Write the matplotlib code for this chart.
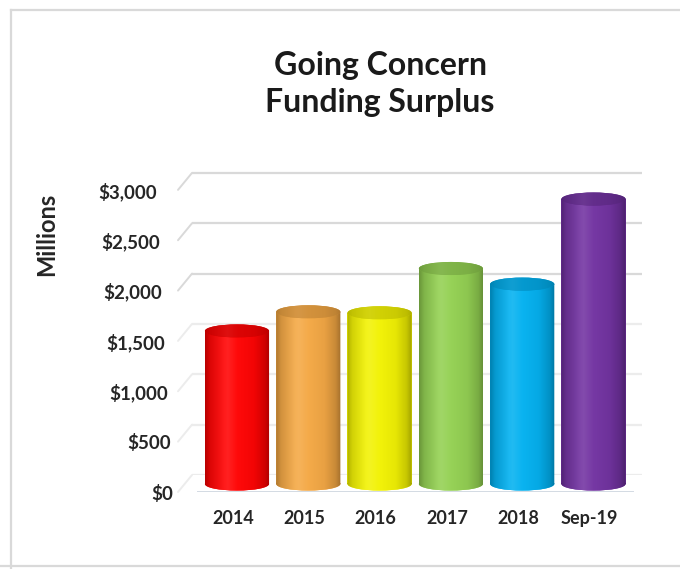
import numpy as np
import matplotlib
matplotlib.use("Agg")
import matplotlib.pyplot as plt
from matplotlib.patches import Ellipse, PathPatch, ConnectionPatch
from matplotlib.path import Path
from matplotlib.lines import Line2D
import matplotlib.transforms as mtransforms
import matplotlib.colors as mcolors

# ---- data ----
categories = ["2014", "2015", "2016", "2017", "2018", "Sep-19"]
values = [1520, 1710, 1700, 2140, 1985, 2830]
colors = ["#FF0000", "#F4A742", "#F2F200", "#92D050", "#00B0F0", "#7030A0"]
yticks = [0, 500, 1000, 1500, 2000, 2500, 3000]
ytick_labels = ["$0", "$500", "$1,000", "$1,500", "$2,000", "$2,500", "$3,000"]
title = "Going Concern\nFunding Surplus"
ylabel = "Millions"

W, H = 680, 569
fig = plt.figure(figsize=(W / 100, H / 100), dpi=100)
FONT = ["Lato", "DejaVu Sans"]

def fbox(px_left, px_bottom, px_w, px_h):
    return [px_left / W, 1 - px_bottom / H, px_w / W, px_h / H]

XL, XR = 178, 642
XMIN, XMAX = -0.827, 5.68
YMAX = 3200
YBEL = 150
PXPER = 0.1007
AH = YMAX * PXPER

ax_back = fig.add_axes(fbox(XL, 475, XR - XL, AH))
ax_lab = fig.add_axes(fbox(XL, 492, XR - XL, AH))
ax_bar = fig.add_axes(fbox(XL, 484 + YBEL * PXPER, XR - XL, (YMAX + YBEL) * PXPER))
for a in (ax_back, ax_lab, ax_bar):
    a.set_xlim(XMIN, XMAX)
    a.set_ylim(0, YMAX)
    a.patch.set_alpha(0)
    for s in a.spines.values():
        s.set_visible(False)
ax_bar.set_ylim(-YBEL, YMAX)
for a in (ax_back, ax_bar):
    a.set_xticks([])
    a.set_yticks([])

GRID = "#D9D9D9"
x0_back = (192 - XL) / (XR - XL)
for v in yticks:
    gc = GRID if v >= 2000 else "#ECECEC"
    ax_back.plot([x0_back, 1.0], [v, v], color=gc, lw=1.6,
                 transform=ax_back.get_yaxis_transform(), solid_capstyle="butt")
    cp = ConnectionPatch(xyA=(0, v), coordsA=ax_lab.get_yaxis_transform(),
                         xyB=(x0_back, v), coordsB=ax_back.get_yaxis_transform(),
                         color=gc, lw=1.4)
    fig.add_artist(cp)

# floor front line
ax_lab.plot([(198 - XL) / (XR - XL), (633 - XL) / (XR - XL)], [0, 0],
            color="#D3DAE3", lw=1.4, transform=ax_lab.get_yaxis_transform())

# ---- cylinders ----
x = np.arange(len(categories))
bw = 0.9
he = 65  # half height of ellipse in data units

bars = ax_bar.bar(x, values, width=bw, color=colors, edgecolor="none", zorder=3)

t = np.linspace(0, 1, 200)
dark = np.interp(t, [0, 0.08, 0.3, 0.5, 0.75, 0.92, 1.0],
                 [0.28, 0.14, 0.0, 0.0, 0.05, 0.18, 0.33])
light = np.interp(t, [0, 0.2, 0.35, 0.5, 1.0], [0.0, 0.06, 0.13, 0.04, 0.0])

for bar, c, col in zip(bars, x, colors):
    v = bar.get_height()
    base = np.array(mcolors.to_rgb(col))
    bot = Ellipse((c, 0), bw, 2 * he, facecolor=col, edgecolor="none", zorder=3)
    ax_bar.add_patch(bot)
    rgb = base[None, :] * (1 - dark[:, None])
    rgb = rgb + light[:, None] * (1 - rgb)
    img = np.clip(rgb, 0, 1)[None, :, :]
    rect_path = bar.get_path().transformed(bar.get_patch_transform())
    ell_path = bot.get_path().transformed(bot.get_patch_transform())
    clip = PathPatch(Path.make_compound_path(rect_path, ell_path),
                     transform=ax_bar.transData, facecolor="none", edgecolor="none")
    ax_bar.add_patch(clip)
    im = ax_bar.imshow(img, extent=(c - bw / 2, c + bw / 2, -he, v),
                       aspect="auto", interpolation="bilinear", zorder=4)
    im.set_clip_path(clip)
    topcol = np.clip(base * 0.86, 0, 1)
    top = Ellipse((c, v), bw, 2 * he, facecolor=topcol, edgecolor="none", zorder=5)
    ax_bar.add_patch(top)
    trgb = topcol[None, :] * (1 - 0.5 * dark[:, None])
    trgb = trgb + 0.5 * light[:, None] * (1 - trgb)
    tim = ax_bar.imshow(np.clip(trgb, 0, 1)[None, :, :],
                        extent=(c - bw / 2, c + bw / 2, v - he, v + he),
                        aspect="auto", interpolation="bilinear", zorder=5)
    tim.set_clip_path(top)

ax_bar.set_xlim(XMIN, XMAX)
ax_bar.set_ylim(-YBEL, YMAX)

# ---- ticks ----
ax_lab.set_yticks(yticks)
ax_lab.set_yticklabels(ytick_labels, fontfamily=FONT, fontweight="bold",
                       fontsize=13.5, color="#262626")
ax_lab.tick_params(axis="y", length=0, pad=15)
for lbl, v in zip(ax_lab.get_yticklabels(), yticks):
    shift = (3000 - v) / 3000 * 16
    lbl.set_transform(lbl.get_transform() +
                      mtransforms.ScaledTranslation(shift / 100, 0, fig.dpi_scale_trans))
ax_lab.set_xticks(x)
ax_lab.set_xticklabels(categories, fontfamily=FONT, fontweight="bold",
                       fontsize=13, color="#262626")
ax_lab.tick_params(axis="x", length=0, pad=13)
for lbl in ax_lab.get_xticklabels():
    lbl.set_transform(lbl.get_transform() +
                      mtransforms.ScaledTranslation(-4 / 100, 0, fig.dpi_scale_trans))

fig.text(47 / W, 1 - 234 / H, ylabel, rotation=90, ha="center", va="center",
         fontfamily=FONT, fontweight="bold", fontsize=17, color="#262626")
fig.text(380 / W, 1 - 84 / H, title, ha="center", va="center",
         fontfamily=FONT, fontweight="bold", fontsize=23, color="#1a1a1a",
         linespacing=1.3)

# border
fig.add_artist(Line2D([11 / W, 11 / W], [1 - 10 / H, 0], color=GRID, lw=1.6,
                      transform=fig.transFigure))
fig.add_artist(Line2D([11 / W, 1], [1 - 10 / H, 1 - 10 / H], color=GRID, lw=1.6,
                      transform=fig.transFigure))
fig.add_artist(Line2D([0, 1], [1 - 566 / H, 1 - 566 / H], color=GRID, lw=1.6,
                      transform=fig.transFigure))

fig.savefig("out.png", dpi=100)
